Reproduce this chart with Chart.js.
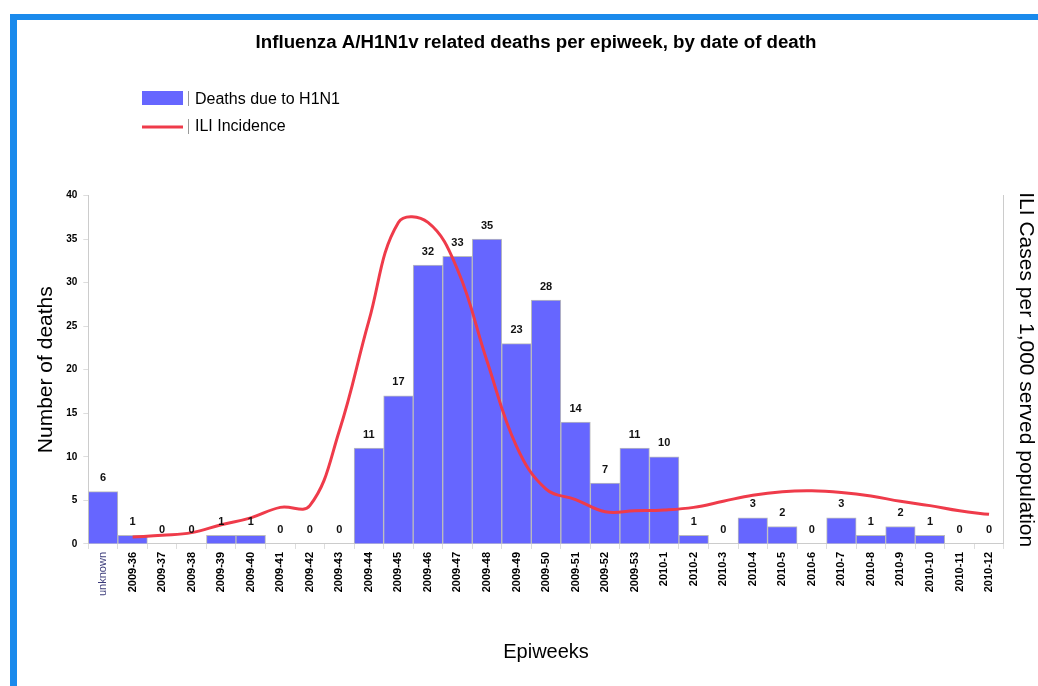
<!DOCTYPE html>
<html>
<head>
<meta charset="utf-8">
<script src="https://cdn.jsdelivr.net/npm/chart.js@4"></script>
<style>
  html, body { margin: 0; padding: 0; background: #fff; }
  #frame {
    position: absolute; left: 10px; top: 14px; width: 1021px; height: 666px;
    border-top: 6px solid #1a8aec; border-left: 7px solid #1a8aec;
  }
  canvas { display: block; }
</style>
</head>
<body>
<div id="frame"><canvas id="area" width="1021" height="666"></canvas></div>
<script>
var weeks = ["unknown", "2009-36", "2009-37", "2009-38", "2009-39", "2009-40", "2009-41", "2009-42",
  "2009-43", "2009-44", "2009-45", "2009-46", "2009-47", "2009-48", "2009-49", "2009-50", "2009-51",
  "2009-52", "2009-53", "2010-1", "2010-2", "2010-3", "2010-4", "2010-5", "2010-6", "2010-7",
  "2010-8", "2010-9", "2010-10", "2010-11", "2010-12"];
var deaths = [6, 1, 0, 0, 1, 1, 0, 0, 0, 11, 17, 32, 33, 35, 23, 28, 14, 7, 11, 10, 1, 0, 3, 2, 0, 3, 1, 2, 1, 0, 0];
// ILI incidence, read against the death scale (right axis has no printed ticks)
var ili = [null, 0.8, 1.0, 1.3, 2.2, 3.0, 4.2, 4.4, 13, 25.6, 36.9, 36.9, 31.5, 21, 11.2, 6.3, 5.1,
  3.7, 3.8, 3.9, 4.2, 4.9, 5.6, 6.0, 6.1, 5.9, 5.5, 4.9, 4.4, 3.8, 3.4];
var yTicks = [0, 5, 10, 15, 20, 25, 30, 35, 40];

var FONT = 'Arial, "Liberation Sans", sans-serif';

var extras = {
  id: 'extras',
  afterDatasetsDraw: function(chart) {
    var c = chart.ctx;
    var meta = chart.getDatasetMeta(1);
    c.save();
    c.font = 'bold 11px ' + FONT;
    c.fillStyle = '#111';
    c.textAlign = 'center';
    c.textBaseline = 'bottom';
    meta.data.forEach(function(bar, i) {
      c.fillText(String(deaths[i]), bar.x, bar.y - 8);
    });
    // legend
    c.fillStyle = '#6666ff';
    c.fillRect(125, 71, 41, 14);
    c.strokeStyle = '#ef3b4a';
    c.lineWidth = 3;
    c.beginPath(); c.moveTo(125, 107); c.lineTo(166, 107); c.stroke();
    c.strokeStyle = '#999';
    c.lineWidth = 1;
    c.beginPath(); c.moveTo(171.5, 71); c.lineTo(171.5, 86); c.moveTo(171.5, 99); c.lineTo(171.5, 114); c.stroke();
    c.font = '16px ' + FONT;
    c.fillStyle = '#000';
    c.textAlign = 'left';
    c.textBaseline = 'middle';
    c.fillText('Deaths due to H1N1', 178, 80);
    c.fillText('ILI Incidence', 178, 107);
    c.restore();
  }
};

var ctx = document.getElementById('area').getContext('2d');
var myChart = new Chart(ctx, {
  data: {
    labels: weeks,
    datasets: [{
      type: 'line',
      label: 'ILI Incidence',
      data: ili,
      yAxisID: 'y1',
      borderColor: '#ef3b4a',
      borderWidth: 3,
      pointRadius: 0,
      tension: 0.4,
      fill: false,
      order: 1
    }, {
      type: 'bar',
      label: 'Deaths due to H1N1',
      data: deaths,
      yAxisID: 'y',
      backgroundColor: '#6666ff',
      borderColor: '#bcbcbc',
      borderWidth: 1,
      categoryPercentage: 1,
      barPercentage: 1,
      order: 2
    }]
  },
  options: {
    responsive: false,
    animation: false,
    layout: { padding: { top: 12, left: 17, right: 0, bottom: 22 } },
    plugins: {
      legend: { display: false },
      tooltip: { enabled: false },
      title: {
        display: true,
        text: 'Influenza A/H1N1v related deaths per epiweek, by date of death',
        color: '#000',
        font: { family: FONT, size: 18.7, weight: 'bold' },
        padding: { top: 0, bottom: 141 }
      }
    },
    scales: {
      x: {
        grid: { drawOnChartArea: false, tickLength: 5, color: '#ddd' },
        border: { color: '#ccc' },
        ticks: {
          minRotation: 90, maxRotation: 90, autoSkip: false,
          color: function(c) { return c.index === 0 ? '#3b3b7a' : '#000'; },
          font: function(c) { return c.index === 0 ? { family: FONT, size: 11 } : { family: FONT, size: 11, weight: 'bold' }; }
        },
        title: {
          display: true, text: 'Epiweeks', color: '#000',
          font: { family: FONT, size: 20 }, padding: { top: 41, bottom: 0 }
        }
      },
      y: {
        position: 'left',
        min: 0, max: 40,
        afterBuildTicks: function(s) { s.ticks = yTicks.map(function(v) { return { value: v }; }); },
        grid: { drawOnChartArea: false, tickLength: 5, color: '#ddd' },
        border: { color: '#ccc' },
        ticks: { color: '#000', font: { family: FONT, size: 10, weight: 'bold' }, padding: 6 },
        title: {
          display: true, text: 'Number of deaths', color: '#000',
          font: { family: FONT, size: 21 }, padding: { top: 0, bottom: 1 }
        }
      },
      y1: {
        position: 'right',
        min: 0, max: 40,
        grid: { drawOnChartArea: false, drawTicks: false },
        border: { color: '#ccc' },
        ticks: { display: false },
        title: {
          display: true, text: 'ILI Cases per 1,000 served population', color: '#000',
          font: { family: FONT, size: 21 }, padding: { top: 0, bottom: 9 }
        }
      }
    }
  },
  plugins: [extras]
});
</script>
</body>
</html>
